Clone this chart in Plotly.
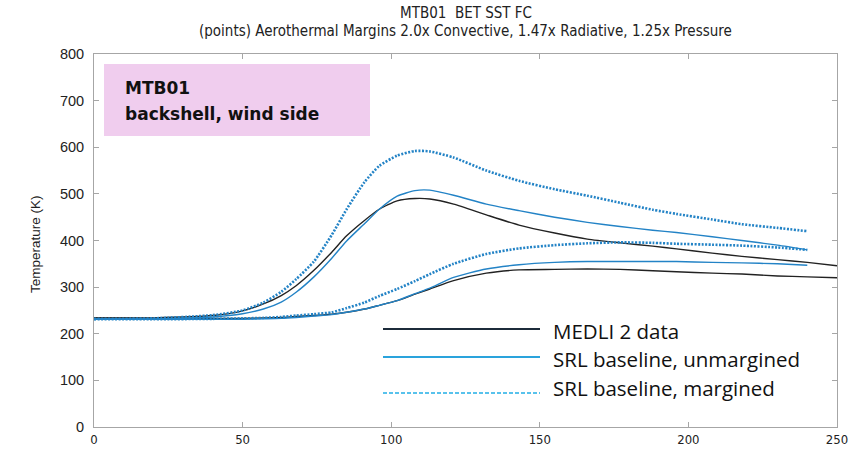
import plotly.graph_objects as go

# Time (s) knots for each trace
time_s = [0, 20, 40, 50, 57, 63, 68, 74, 80, 85, 91, 96, 102, 108, 113, 121,
          132, 143, 155, 166, 177, 188, 196, 208, 218, 230, 240, 250]

# MEDLI 2 measured temperatures (K): shallow and deep thermocouples
medli_tc1 = [234, 234, 239, 249, 264, 282, 303, 336, 375, 410, 443, 467, 485, 490,
             489, 478, 455, 433, 416, 403, 395, 388, 382, 373, 366, 359, 353, 346]
medli_tc2 = [234, 233, 233, 233, 234, 235, 237, 239, 242, 246, 253, 261, 271, 285,
             296, 314, 330, 337, 338, 339, 338, 335, 333, 330, 328, 324, 322, 320]

# SRL baseline predictions (K), unmargined, end at 240 s
srl_tc1 = [232, 232, 236, 243, 253, 268, 289, 322, 362, 399, 436, 467, 495, 507,
           508, 497, 478, 464, 450, 439, 430, 422, 417, 408, 400, 390, 380]
srl_tc2 = [231, 231, 231, 231, 232, 233, 235, 238, 241, 246, 253, 261, 271, 286,
           298, 321, 339, 348, 353, 355, 355, 355, 355, 353, 352, 350, 347]

# SRL baseline predictions (K) with aerothermal margins
srl_m_tc1 = [232, 233, 240, 250, 267, 290, 317, 355, 412, 467, 525, 560, 582, 592,
             591, 578, 550, 528, 510, 496, 481, 466, 457, 445, 435, 427, 420]
srl_m_tc2 = [231, 231, 232, 233, 234, 236, 239, 242, 246, 255, 267, 281, 296, 313,
             328, 350, 371, 383, 390, 394, 396, 395, 393, 391, 389, 385, 380]

x_ticks = [0, 50, 100, 150, 200, 250]
y_ticks = [0, 100, 200, 300, 400, 500, 600, 700, 800]

legend_labels = ["MEDLI 2 data", "SRL baseline, unmargined", "SRL baseline, margined"]

BLACK = "#222222"
BLUE = "#2383c6"

W, H = 856, 454
L, R, T, B = 94, 837, 54, 427


def px(x):
    return (x - L) / (R - L)


def py(y):
    return (B - y) / (B - T)


fig = go.Figure()


def add_curve(y, color, dash, width):
    fig.add_trace(go.Scatter(
        x=time_s[:len(y)], y=y, mode="lines",
        line=dict(color=color, width=width, dash=dash, shape="spline", smoothing=0.6),
        showlegend=False, hoverinfo="skip"))


add_curve(medli_tc1, BLACK, "solid", 1.4)
add_curve(medli_tc2, BLACK, "solid", 1.4)
add_curve(srl_tc1, BLUE, "solid", 1.4)
add_curve(srl_tc2, BLUE, "solid", 1.4)
add_curve(srl_m_tc1, BLUE, "2px,1.5px", 2.6)
add_curve(srl_m_tc2, BLUE, "2px,1.5px", 2.6)

axis_common = dict(
    showline=True, mirror="ticks", linecolor="#a6a6a6", linewidth=1,
    ticks="inside", ticklen=5, tickcolor="#a6a6a6", showgrid=False, zeroline=False,
    automargin=False,
)

fig.update_xaxes(range=[0, 250], tickvals=x_ticks,
                 tickfont=dict(family="DejaVu Sans Condensed, DejaVu Sans", size=13, color="#222"),
                 **axis_common)
fig.update_yaxes(range=[0, 800], tickvals=y_ticks, ticklabelstandoff=6,
                 tickfont=dict(family="Liberation Sans, Arial", size=14.5, color="#222"),
                 **axis_common)

shapes = []
annotations = []

# Sensor label box
shapes.append(dict(type="rect", xref="paper", yref="paper",
                   x0=px(104), x1=px(370), y0=py(136), y1=py(64),
                   fillcolor="#f0cdee", line=dict(width=0), layer="below"))
annotations.append(dict(xref="paper", yref="paper", x=px(123), y=py(88),
                        xanchor="left", yanchor="middle", showarrow=False,
                        text="<b>MTB01</b>",
                        font=dict(family="DejaVu Sans", size=17, color="#111")))
annotations.append(dict(xref="paper", yref="paper", x=px(123), y=py(114),
                        xanchor="left", yanchor="middle", showarrow=False,
                        text="<b>backshell, wind side</b>",
                        font=dict(family="DejaVu Sans", size=17, color="#111")))

# Legend
legend_styles = [("#1c2b3a", "solid", 2), ("#2aa3dc", "solid", 2), ("#22aee6", "4px,2px", 1.6)]
legend_y = [329, 357, 393]
legend_text_y = [331, 359, 388]
for (c, d, w), ly, ty, lab in zip(legend_styles, legend_y, legend_text_y, legend_labels):
    shapes.append(dict(type="line", xref="paper", yref="paper",
                       x0=px(383), x1=px(540), y0=py(ly), y1=py(ly),
                       line=dict(color=c, width=w, dash=d)))
    annotations.append(dict(xref="paper", yref="paper", x=px(551), y=py(ty),
                            xanchor="left", yanchor="middle", showarrow=False,
                            text=lab, font=dict(family="Open Sans", size=20.5, color="#111")))

# Titles
annotations.append(dict(xref="paper", yref="paper", x=px(466), y=py(13),
                        xanchor="center", yanchor="middle", showarrow=False,
                        text="MTB01  BET SST FC",
                        font=dict(family="DejaVu Sans Condensed, DejaVu Sans", size=15, color="#222")))
annotations.append(dict(xref="paper", yref="paper", x=px(466), y=py(31),
                        xanchor="center", yanchor="middle", showarrow=False,
                        text="(points) Aerothermal Margins 2.0x Convective, 1.47x Radiative, 1.25x Pressure",
                        font=dict(family="DejaVu Sans Condensed, DejaVu Sans", size=15, color="#222")))
annotations.append(dict(xref="paper", yref="paper", x=px(35), y=py(244),
                        xanchor="center", yanchor="middle", showarrow=False, textangle=-90,
                        text="Temperature (K)",
                        font=dict(family="Liberation Sans, Arial", size=13.5, color="#222")))

fig.update_layout(
    width=W, height=H,
    margin=dict(l=L, r=W - R, t=T, b=H - B),
    paper_bgcolor="white", plot_bgcolor="white",
    shapes=shapes, annotations=annotations,
    showlegend=False,
)

fig.write_html("out.html")
